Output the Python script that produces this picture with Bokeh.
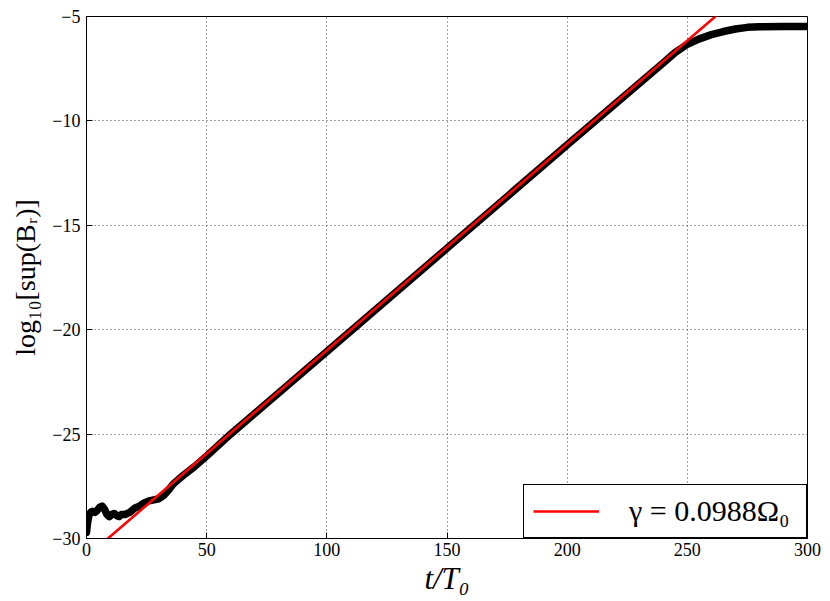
from bokeh.plotting import figure
from bokeh.models import Range1d, ColumnDataSource, Legend, LegendItem, FixedTicker
from bokeh.embed import file_html
from bokeh.resources import INLINE

# ---- data ----
t_vals = [0, 0.5, 1, 1.7, 2.5, 3.5, 4.5, 5.5, 6.5, 7.5, 8.5, 9.5, 10.5, 11.5,
          12.5, 13.5, 14.5, 16, 18, 20, 22, 24, 26, 28, 30, 32, 34, 36, 38, 40,
          45, 50, 60, 100, 150, 200, 230, 240, 245, 250, 255, 260, 265, 270,
          275, 280, 290, 300]
logB_vals = [-29.7, -29.2, -28.9, -28.75, -28.7, -28.75, -28.65, -28.5, -28.45,
             -28.6, -28.85, -28.95, -28.85, -28.8, -28.9, -28.95, -28.85,
             -28.85, -28.75, -28.55, -28.45, -28.3, -28.2, -28.15, -28.1,
             -27.95, -27.7, -27.4, -27.2, -27.0, -26.55, -26.05, -25.0,
             -21.05, -16.1, -11.15, -8.2, -7.22, -6.72, -6.33, -6.07, -5.87,
             -5.72, -5.6, -5.52, -5.49, -5.48, -5.48]

fit_slope = 0.0989      # decades per T0
fit_t_start = 8.9       # where the fit crosses -30
fit_t = [0, 300]
fit_y = [-30 + fit_slope * (t - fit_t_start) for t in fit_t]
fit_label = "γ = 0.0988Ω₀"

x_ticks = [0, 50, 100, 150, 200, 250, 300]
y_ticks = [-30, -25, -20, -15, -10, -5]
y_tick_labels = ["−30", "−25", "−20", "−15", "−10", "−5"]

FONT = "Liberation Serif"

p = figure(width=825, height=598, frame_width=721, frame_height=522,
           x_range=Range1d(0, 300), y_range=Range1d(-30, -5),
           output_backend="svg", toolbar_location=None,
           min_border_left=86, min_border_top=16, min_border_right=18,
           min_border_bottom=50)
p.background_fill_color = "white"
p.border_fill_color = "white"
p.outline_line_color = "black"
p.outline_line_width = 1

src = ColumnDataSource(dict(t=t_vals, y=logB_vals))
p.line("t", "y", source=src, line_color="black", line_width=7.5,
       line_join="round", line_cap="round")
r_fit = p.line(fit_t, fit_y, line_color="#ff0000", line_width=2.6)

for ax in (p.xaxis[0], p.yaxis[0]):
    ax.axis_line_color = "black"
    ax.major_tick_in = 6
    ax.major_tick_out = 0
    ax.minor_tick_line_color = None
    ax.major_tick_line_color = "black"
    ax.major_label_text_font = FONT
    ax.major_label_text_font_size = "18px"
    ax.major_label_text_color = "black"
    ax.axis_label_text_font = FONT
    ax.axis_label_text_color = "black"

p.xaxis.ticker = FixedTicker(ticks=x_ticks)
p.yaxis.ticker = FixedTicker(ticks=y_ticks)
p.yaxis.major_label_overrides = {v: s for v, s in zip(y_ticks, y_tick_labels)}
p.xaxis.major_label_standoff = 4
p.yaxis.major_label_standoff = 6

p.xaxis.axis_label = "t/T₀"
p.xaxis.axis_label_text_font_size = "31px"
p.xaxis.axis_label_text_font_style = "italic"
p.xaxis.axis_label_standoff = 2

p.yaxis.axis_label = "log₁₀[sup(Bᵣ)]"
p.yaxis.axis_label_text_font_size = "28px"
p.yaxis.axis_label_text_font_style = "normal"
p.yaxis.axis_label_standoff = 8

p.grid.grid_line_color = "#444444"
p.grid.grid_line_dash = "1 3"
p.grid.grid_line_width = 1

legend = Legend(items=[LegendItem(label=fit_label, renderers=[r_fit])],
                location="bottom_right", margin=0, padding=9,
                glyph_width=66, glyph_height=30, label_standoff=30,
                label_width=168, label_height=30,
                border_line_color="black", border_line_width=1.2,
                border_line_alpha=1, background_fill_color="white",
                background_fill_alpha=1,
                label_text_font=FONT, label_text_font_size="30px",
                label_text_color="black")
p.add_layout(legend)

open("out.html", "w").write(file_html(p, INLINE))
